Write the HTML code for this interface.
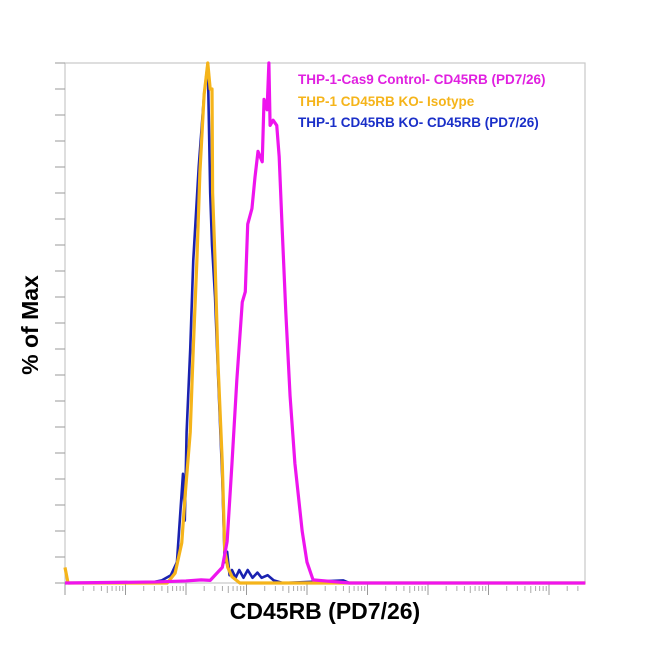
<!DOCTYPE html>
<html><head><meta charset="utf-8"><style>
body{margin:0;background:#fff;}
svg{display:block;font-family:"Liberation Sans",Arial,sans-serif;}
</style></head><body>
<svg id="chart" width="650" height="650" viewBox="0 0 650 650">
<g id="axes"></g>
<g id="series"></g>
<text x="298" y="84" font-size="13.5" font-weight="bold" fill="#e020e0">THP-1-Cas9 Control- CD45RB (PD7/26)</text>
<text x="298" y="106" font-size="13.5" font-weight="bold" fill="#f5b41a">THP-1 CD45RB KO- Isotype</text>
<text x="298" y="127" font-size="13.5" font-weight="bold" fill="#1a2fc8">THP-1 CD45RB KO- CD45RB (PD7/26)</text>
<text x="325" y="619" font-size="23" font-weight="bold" text-anchor="middle" fill="#000">CD45RB (PD7/26)</text>
<text x="0" y="0" font-size="23" font-weight="bold" text-anchor="middle" fill="#000" transform="translate(38,325) rotate(-90)">% of Max</text>
</svg>
<script>
// data: x in log decades, y in % of max
const orangeX=[0,0.05,1.40,1.69,1.82,1.93,1.98,2.07,2.12,2.18,2.23,2.30,2.36,2.40,2.43,2.44,2.48,2.53,2.60,2.64,2.69,2.76,2.89,8.6];
const orangeY=[3,0,0,0,1.9,7.7,16,29,45,62,79,94,100,95,95,75,62,42,23,6.3,3,1.2,0,0];
const blueX=[0,1.38,1.60,1.75,1.85,1.95,1.98,2.01,2.07,2.12,2.21,2.30,2.36,2.40,2.43,2.48,2.53,2.60,2.64,2.68,2.72,2.76,2.82,2.88,2.95,3.02,3.10,3.18,3.25,3.35,3.45,3.60,4.6,4.7,8.6];
const blueY=[0,0,0.5,1.5,4,21,12,29,45,62,80,94,100,75,65,55,40,20,4,6,1.5,2.5,1,2.5,1,2.5,1,2,1,1.5,0.5,0,0.5,0,0];
const magentaX=[0,1.5,2.0,2.25,2.40,2.60,2.68,2.76,2.84,2.93,2.98,3.02,3.09,3.14,3.19,3.26,3.29,3.34,3.37,3.39,3.44,3.50,3.54,3.59,3.65,3.72,3.80,3.92,4.0,4.10,4.4,4.7,8.6];
const magentaY=[0,0.2,0.4,0.6,0.5,3,8,23,39,54,56,69,72,78,83,81,93,91,100,88,89,88,82,68,52,36,23,10,4,0.6,0.3,0,0];
const yTicks=[0,5,10,15,20,25,30,35,40,45,50,55,60,65,70,75,80,85,90,95,100];
const decades=[0,1,2,3,4,5,6,7,8];

const L=65,R=585,T=63,B=583,DEC=60.5;
const sx=d=>L+d*DEC;
const sy=v=>B-v/100*(B-T);
const NS='http://www.w3.org/2000/svg';
function mk(tag,attrs,parent){const e=document.createElementNS(NS,tag);for(const k in attrs)e.setAttribute(k,attrs[k]);parent.appendChild(e);return e;}
const axes=document.getElementById('axes');
let f=mk('rect',{x:L,y:T,width:R-L,height:B-T,fill:'none',stroke:'#c8c8c8','stroke-width':1.2},axes);


yTicks.forEach(v=>{
  const t=mk('line',{x1:L-10,x2:L,y1:sy(v),y2:sy(v),stroke:'#999','stroke-width':1},axes);
  
  
});
decades.forEach(d=>{
  const t=mk('line',{x1:sx(d),x2:sx(d),y1:B,y2:B+12,stroke:'#999','stroke-width':1},axes);
  
  
  for(let m=2;m<=9;m++){const dd=d+Math.log10(m);if(dd>8.6)break;
    const mt=mk('line',{x1:sx(dd),x2:sx(dd),y1:B+3,y2:B+(m===5?10:8),stroke:'#aaa','stroke-width':1},axes);
    
    }
});
const sg=document.getElementById('series');
function line(xs,ys,color,w,name){
  const p=mk('polyline',{points:xs.map((x,i)=>sx(x)+','+sy(ys[i])).join(' '),fill:'none',stroke:color,'stroke-width':w,'stroke-linejoin':'round'},sg);
  
  
}
line(blueX,blueY,'#1a22b0',2.6,'series-ko-cd45rb');
line(orangeX,orangeY,'#f5b41a',3.2,'series-ko-isotype');
line(magentaX,magentaY,'#ee14ee',3.2,'series-cas9-control');
</script>
</body></html>
